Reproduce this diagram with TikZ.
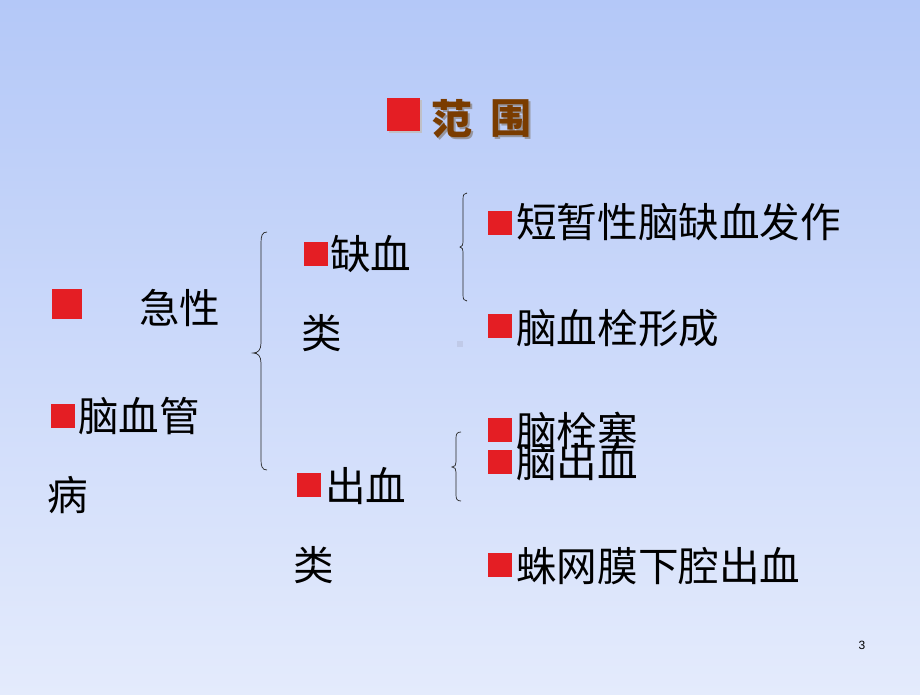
\documentclass[tikz,border=0pt]{standalone}
\usepackage{fontspec}
\newfontfamily\cjk{Noto Sans CJK SC}
\newfontfamily\numfont{Liberation Sans}
\definecolor{bgtop}{RGB}{180,200,248}
\definecolor{bgbot}{RGB}{228,235,252}
\definecolor{sqred}{RGB}{228,30,36}
\definecolor{titlebrown}{RGB}{122,60,0}
\definecolor{shadowgray}{RGB}{150,150,160}
\definecolor{dotgray}{RGB}{192,202,232}
\tikzset{
  item/.style={anchor=west, inner sep=0pt, font=\cjk\fontsize{40.6}{40.6}\selectfont, text=black},
  sq/.style={fill=sqred, draw=none, inner sep=0pt, minimum size=24pt},
  bigsq/.style={sq, minimum size=30pt},
  brace/.style={draw=black!85, line width=0.7pt},
  ttl/.style={inner sep=0pt, font=\cjk\bfseries\fontsize{41}{41}\selectfont},
}
\begin{document}
\begin{tikzpicture}[x=1pt,y=-1pt]
\shade[top color=bgtop, bottom color=bgbot] (0,0) rectangle (920,695);
\useasboundingbox (0,0) rectangle (920,695);

% title
\node[sq, minimum size=33pt, fill=shadowgray!60] at (405.5,117) {};
\node[sq, minimum size=33pt] (tsq) at (403.5,115) {};
\node[ttl, text=shadowgray] at (454,121) {范};
\node[ttl, text=titlebrown] (t1) at (452,119) {范};
\node[ttl, text=shadowgray] at (513,121) {围};
\node[ttl, text=titlebrown] (t2) at (511,119) {围};

% left column
\node[bigsq] (l1s) at (67,304) {};
\node[item] (l1) at (139,308) {急性};
\node[sq] (l2s) at (63,416) {};
\node[item] (l2) at (78,416) {脑血管};
\node[item] (l3) at (47,495) {病};

% brace 1
\draw[brace] (267,232) .. controls (262,232) and (261,236) .. (261,243) -- (261,343)
  .. controls (261,350) and (258,353) .. (253,353)
  .. controls (258,353) and (261,356) .. (261,363) -- (261,460)
  .. controls (261,466) and (262,470) .. (267,470);

% middle column
\node[sq] (m1s) at (315.5,253.5) {};
\node[item] (m1) at (330,254) {缺血};
\node[item] (m2) at (301,333) {类};
\node[sq] (m3s) at (309,485) {};
\node[item] (m3) at (325,486) {出血};
\node[item] (m4) at (293,565) {类};

% brace 2
\draw[brace] (467,193) .. controls (464,193) and (463,195) .. (463,199) -- (463,241)
  .. controls (463,245) and (462,247) .. (460,247)
  .. controls (462,247) and (463,249) .. (463,253) -- (463,295)
  .. controls (463,299) and (464,301) .. (467,301);

% brace 3
\draw[brace] (461,432) .. controls (457,432) and (456,434) .. (456,438) -- (456,462)
  .. controls (456,465) and (455,467) .. (452,467)
  .. controls (455,467) and (456,469) .. (456,472) -- (456,495)
  .. controls (456,499) and (457,501) .. (461,501);

% small grey dot
\node[fill=dotgray, inner sep=0pt, minimum size=6pt] (dot) at (460,344) {};

% right column
\node[sq] (r1s) at (500,222.5) {};
\node[item] (r1) at (516,222) {短暂性脑缺血发作};
\node[sq] (r2s) at (500,326) {};
\node[item] (r2) at (516,328) {脑血栓形成};
\node[sq] (r3s) at (500,430) {};
\node[item] (r3) at (516,431) {脑栓塞};
\node[sq] (r4s) at (500,462) {};
\node[item] (r4) at (516,462) {脑出血};
\node[sq] (r5s) at (500,565) {};
\node[item] (r5) at (516,566) {蛛网膜下腔出血};

% page number
\node[inner sep=0pt, font=\numfont\fontsize{12}{12}\selectfont] (pg) at (862,645) {3};
\end{tikzpicture}
\end{document}
